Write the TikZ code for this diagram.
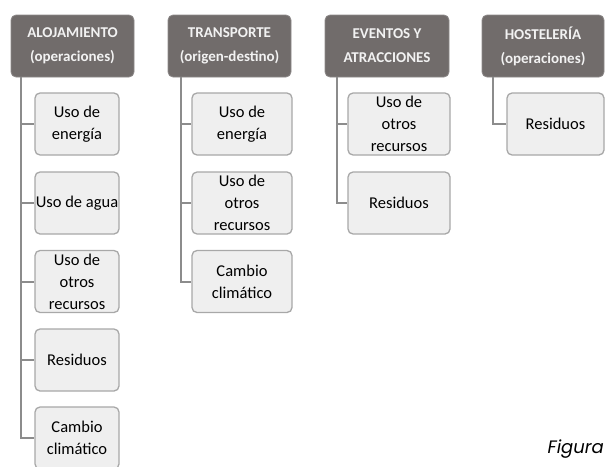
\documentclass[tikz,border=0pt]{standalone}
\usepackage{fontspec}
\setmainfont{Carlito}
\newfontfamily\popfont{Poppins}
\definecolor{hdrgray}{HTML}{716C6B}
\definecolor{hdrtext}{HTML}{F2F2F2}
\definecolor{boxfill}{HTML}{EFEFEF}
\definecolor{boxline}{HTML}{A8A8A8}
\definecolor{connline}{HTML}{8C8C8C}
\tikzset{
  hdr/.style={rectangle, rounded corners=5pt, fill=hdrgray, draw=hdrgray!80!white, line width=0.8pt,
    text=hdrtext, font=\bfseries\fontsize{15}{24}\selectfont, align=center,
    minimum height=62pt, inner sep=0pt},
  child/.style={rectangle, rounded corners=5pt, fill=boxfill, draw=boxline, line width=1.3pt,
    text=black, font=\fontsize{16.5}{22}\selectfont, align=center,
    minimum height=62pt, inner sep=0pt},
  conn/.style={draw=connline, line width=2pt},
}
\begin{document}
\begin{tikzpicture}[x=1pt,y=-1pt]
\useasboundingbox (0,0) rectangle (605,466);
% headers
\node[hdr, minimum width=123pt] (h1) at (72.5,46) {ALOJAMIENTO\\(operaciones)};
\node[hdr, minimum width=123pt] (h2) at (229.5,46) {TRANSPORTE\\(origen-destino)};
\node[hdr, minimum width=124pt] (h3) at (387,46) {EVENTOS Y\\ATRACCIONES};
\node[hdr, minimum width=122pt] (h4) at (543,46) {HOSTELERÍA\\(operaciones)};
% column 1
\node[child, minimum width=84pt] (c11) at (77,124) {Uso de\\energía};
\node[child, minimum width=84pt] (c12) at (77,203) {Uso de agua};
\node[child, minimum width=84pt] (c13) at (77,281.5) {Uso de\\otros\\recursos};
\node[child, minimum width=84pt] (c14) at (77,360) {Residuos};
\node[child, minimum width=84pt] (c15) at (77,438) {Cambio\\climático};
% column 2
\node[child, minimum width=100pt] (c21) at (242,124) {Uso de\\energía};
\node[child, minimum width=100pt] (c22) at (242,203) {Uso de\\otros\\recursos};
\node[child, minimum width=100pt] (c23) at (242,281.5) {Cambio\\climático};
% column 3
\node[child, minimum width=102pt] (c31) at (399,124) {Uso de\\otros\\recursos};
\node[child, minimum width=102pt] (c32) at (399,203) {Residuos};
% column 4
\node[child, minimum width=97pt] (c41) at (555.5,124) {Residuos};
% connectors
\foreach \c in {c11,c12,c13,c14,c15}
  \draw[conn] ([xshift=10pt]h1.south west) |- (\c.west);
\foreach \c in {c21,c22,c23}
  \draw[conn] ([xshift=13pt]h2.south west) |- (\c.west);
\foreach \c in {c31,c32}
  \draw[conn] ([xshift=12pt]h3.south west) |- (\c.west);
\draw[conn] ([xshift=11pt]h4.south west) |- (c41.west);
% caption fragment
\node[anchor=base east, inner sep=0pt, font=\popfont\itshape\fontsize{18}{20}\selectfont] (fig) at (604,453) {Figura};
\end{tikzpicture}
\end{document}
